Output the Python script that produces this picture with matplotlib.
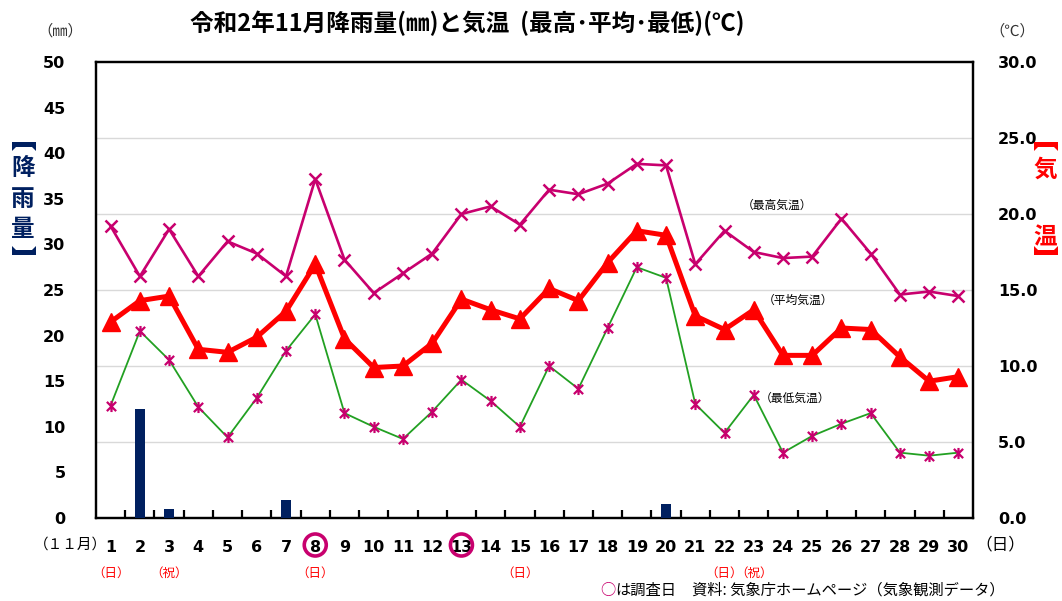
import numpy as np
import matplotlib.pyplot as plt
from matplotlib.patches import Ellipse, Polygon
from matplotlib.path import Path

plt.rcParams['font.family'] = ['Noto Sans CJK JP', 'DejaVu Sans']

days = np.arange(1, 31)
rain = [0, 12.0, 1.0, 0, 0, 0, 2.0, 0, 0, 0, 0, 0, 0, 0, 0,
        0, 0, 0, 0, 1.5, 0, 0, 0, 0, 0, 0, 0, 0, 0, 0]
t_max = [19.2, 15.9, 19.0, 15.9, 18.2, 17.4, 15.9, 22.3, 17.0, 14.8,
         16.1, 17.4, 20.0, 20.5, 19.3, 21.6, 21.3, 22.0, 23.3, 23.2,
         16.7, 18.9, 17.5, 17.1, 17.2, 19.7, 17.4, 14.7, 14.9, 14.6]
t_avg = [12.9, 14.3, 14.6, 11.1, 10.9, 11.9, 13.6, 16.7, 11.8, 9.9,
         10.0, 11.5, 14.4, 13.7, 13.1, 15.1, 14.3, 16.8, 18.9, 18.6,
         13.3, 12.4, 13.7, 10.7, 10.7, 12.5, 12.4, 10.6, 9.0, 9.3]
t_min = [7.4, 12.3, 10.4, 7.3, 5.3, 7.9, 11.0, 13.4, 6.9, 6.0,
         5.2, 7.0, 9.1, 7.7, 6.0, 10.0, 8.5, 12.5, 16.5, 15.8,
         7.5, 5.6, 8.1, 4.3, 5.4, 6.2, 6.9, 4.3, 4.1, 4.3]
survey_days = [8, 13]
day_marks = {1: '（日）', 3: '（祝）', 8: '（日）', 15: '（日）', 22: '（日）', 23: '（祝）'}

navy = '#002060'
magenta = '#C8006E'
red = '#FF0000'
green = '#22A022'

W, H = 1062, 601

# x with a vertical stroke, like the spreadsheet "star" marker
star = Path([(-1, -1), (1, 1), (-1, 1), (1, -1), (0, -1.2), (0, 1.2)],
            [Path.MOVETO, Path.LINETO, Path.MOVETO, Path.LINETO,
             Path.MOVETO, Path.LINETO])

fig = plt.figure(figsize=(10.62, 6.01), dpi=100)
ax2 = fig.add_axes([0.0904, 0.1381, 0.8258, 0.7587])
ax = ax2.twinx()
ax.yaxis.tick_left()
ax2.yaxis.tick_right()
ax.set_zorder(ax2.get_zorder() + 1)
ax.patch.set_visible(False)

# rainfall bars (left axis)
ax.bar(days, rain, width=0.32, color=navy, zorder=3)
ax.set_ylim(0, 50)
ax.set_yticks(np.arange(0, 51, 5))
ax.set_xlim(0.5, 30.5)

# temperatures (right axis)
ax2.set_ylim(0, 30)
ax2.set_yticks(np.arange(0, 31, 5))
ax2.set_yticklabels(['%.1f' % v for v in np.arange(0, 31, 5)])
for v in range(5, 30, 5):
    ax2.axhline(v, color='#d9d9d9', lw=1.0, zorder=0)

ax.plot(days, t_max, color=magenta, lw=1.9, marker='x', ms=9, mew=1.8,
        transform=ax2.transData, zorder=4)
ax.plot(days, t_avg, color=red, lw=3.6, marker='^', ms=13,
        transform=ax2.transData, zorder=5)
ax.plot(days, t_min, color=green, lw=1.3, marker=star, ms=8, mew=1.6,
        mec=magenta, transform=ax2.transData, zorder=4)

for a in (ax, ax2):
    for s in a.spines.values():
        s.set_linewidth(1.6)
        s.set_color('black')

ax.tick_params(axis='y', length=0, pad=22, labelsize=11.5)
for t in ax.get_yticklabels():
    t.set_fontweight('bold')
    t.set_family('DejaVu Sans')
ax2.tick_params(axis='y', length=0, pad=18, labelsize=11.5)
for t in ax2.get_yticklabels():
    t.set_fontweight('bold')
    t.set_family('DejaVu Sans')

ax2.set_xticks(np.arange(1.5, 30, 1), minor=True)
ax2.set_xticks(days)
ax2.set_xticklabels([str(d) for d in days])
ax2.tick_params(axis='x', which='major', length=0, pad=16, labelsize=11.5)
ax2.tick_params(axis='x', which='minor', direction='in', length=6, width=1.6)
for t in ax2.get_xticklabels():
    t.set_fontweight('bold')
    t.set_family('DejaVu Sans')
ax.tick_params(axis='x', which='both', length=0, labelbottom=False)

# survey day circles around the date labels
for d in survey_days:
    px = ax2.transData.transform((d, 0))[0]
    fig.patches.append(Ellipse((px / W, 1 - 545 / H), 22 / W, 22 / H,
                               transform=fig.transFigure, fill=False,
                               ec=magenta, lw=2.6))

for d, s in day_marks.items():
    px = ax2.transData.transform((d, 0))[0]
    fig.text(px / W, 1 - 573 / H, s, color=red, fontsize=9,
             ha='center', va='center')

fig.text(70 / W, 1 - 545 / H, '（１１月）', fontsize=10.5, ha='center', va='center')
fig.text(1000 / W, 1 - 545 / H, '（日）', fontsize=12, ha='center', va='center')

# title and unit labels
fig.text(467 / W, 1 - 23 / H, '令和2年11月降雨量(㎜)と気温  (最高･平均･最低)(℃)',
         fontsize=17, fontweight='bold', ha='center', va='center')
fig.text(60 / W, 1 - 31 / H, '（㎜）', fontsize=11, ha='center', va='center',
         color='#333333')
fig.text(1012 / W, 1 - 31 / H, '（℃）', fontsize=11, ha='center', va='center',
         color='#333333')


def bracket(cx, cy, color, flip=False):
    # thick lenticular bracket lying flat, hooks pointing down (top) or up (bottom)
    s = -1 if flip else 1
    pts = [(-12, -4), (12, -4), (12, 5), (8, 1), (-8, 1), (-12, 5)]
    xy = [((cx + dx) / W, 1 - (cy + s * dy) / H) for dx, dy in pts]
    fig.patches.append(Polygon(xy, closed=True, transform=fig.transFigure,
                               fc=color, ec='none'))


def vertical_label(x, chars, ys, top, bottom, color):
    for ch, y in zip(chars, ys):
        fig.text(x / W, 1 - y / H, ch, fontsize=17, fontweight='bold',
                 color=color, ha='center', va='center')
    bracket(x + 1, top, color)
    bracket(x + 1, bottom, color, flip=True)


vertical_label(23, ['降', '雨', '量'], [168, 199, 229], 146, 251, navy)
vertical_label(1045, ['気', '温'], [170, 237], 146, 251, red)

# series notes
ax2.text(22.6, 20.6, '（最高気温）', fontsize=8.5, ha='left', va='center')
ax2.text(23.3, 14.3, '（平均気温）', fontsize=8.5, ha='left', va='center')
ax2.text(23.2, 7.9, '（最低気温）', fontsize=8.5, ha='left', va='center')

fig.text(600 / W, 1 - 590 / H, '○', color=magenta, fontsize=11, ha='left', va='center')
fig.text(615 / W, 1 - 590 / H, 'は調査日', fontsize=11, ha='left', va='center')
fig.text(692 / W, 1 - 590 / H, '資料: 気象庁ホームページ（気象観測データ）',
         fontsize=11, ha='left', va='center')

fig.savefig('out.png', dpi=100)
